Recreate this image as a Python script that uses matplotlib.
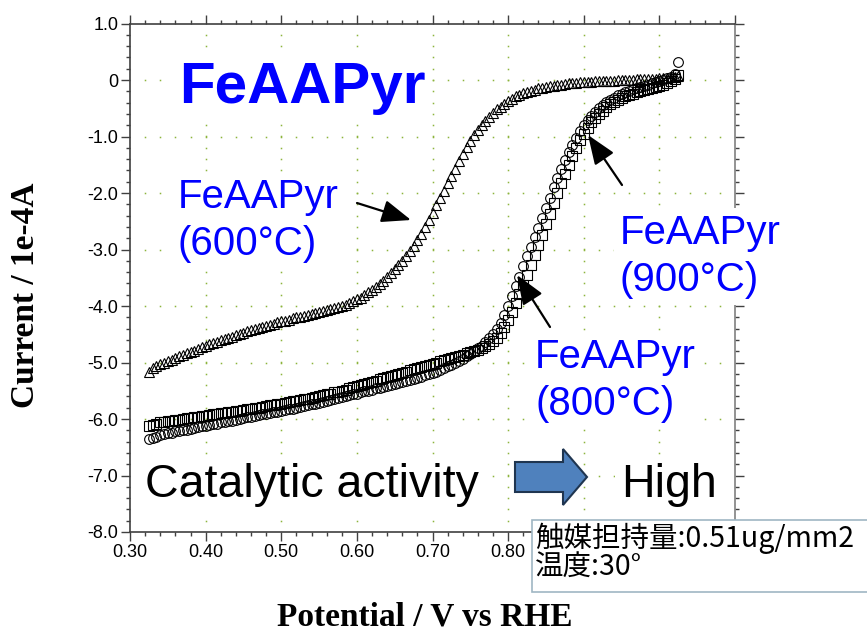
import numpy as np
import matplotlib.pyplot as plt
from matplotlib.patches import FancyArrow, Rectangle
from matplotlib.ticker import MultipleLocator

plt.rcParams['font.family'] = ['Liberation Sans', 'DejaVu Sans']

# --- data (potential in V vs RHE, current in 1e-4 A) ---
potential = [
    0.325, 0.330, 0.335, 0.340, 0.345, 0.350, 0.355, 0.360, 0.365, 0.370,
    0.375, 0.380, 0.385, 0.390, 0.395, 0.400, 0.405, 0.410, 0.415, 0.420,
    0.425, 0.430, 0.435, 0.440, 0.445, 0.450, 0.455, 0.460, 0.465, 0.470,
    0.475, 0.480, 0.485, 0.490, 0.495, 0.500, 0.505, 0.510, 0.515, 0.520,
    0.525, 0.530, 0.535, 0.540, 0.545, 0.550, 0.555, 0.560, 0.565, 0.570,
    0.575, 0.580, 0.585, 0.590, 0.595, 0.600, 0.605, 0.610, 0.615, 0.620,
    0.625, 0.630, 0.635, 0.640, 0.645, 0.650, 0.655, 0.660, 0.665, 0.670,
    0.675, 0.680, 0.685, 0.690, 0.695, 0.700, 0.705, 0.710, 0.715, 0.720,
    0.725, 0.730, 0.735, 0.740, 0.745, 0.750, 0.755, 0.760, 0.765, 0.770,
    0.775, 0.780, 0.785, 0.790, 0.795, 0.800, 0.805, 0.810, 0.815, 0.820,
    0.825, 0.830, 0.835, 0.840, 0.845, 0.850, 0.855, 0.860, 0.865, 0.870,
    0.875, 0.880, 0.885, 0.890, 0.895, 0.900, 0.905, 0.910, 0.915, 0.920,
    0.925, 0.930, 0.935, 0.940, 0.945, 0.950, 0.955, 0.960, 0.965, 0.970,
    0.975, 0.980, 0.985, 0.990, 0.995, 1.000, 1.005, 1.010, 1.015, 1.020,
    1.025,
]

current_600 = [
    -5.17, -5.10, -5.06, -5.03, -5.00, -4.97, -4.95, -4.92, -4.89, -4.87,
    -4.84, -4.81, -4.79, -4.76, -4.73, -4.71, -4.68, -4.66, -4.63, -4.61,
    -4.59, -4.56, -4.54, -4.52, -4.50, -4.47, -4.45, -4.43, -4.41, -4.39,
    -4.37, -4.35, -4.33, -4.31, -4.29, -4.27, -4.26, -4.24, -4.22, -4.20,
    -4.19, -4.17, -4.16, -4.14, -4.12, -4.10, -4.09, -4.07, -4.05, -4.03,
    -4.02, -4.00, -3.98, -3.95, -3.92, -3.88, -3.85, -3.81, -3.76, -3.72,
    -3.67, -3.61, -3.55, -3.49, -3.42, -3.35, -3.28, -3.20, -3.12, -3.03,
    -2.94, -2.84, -2.73, -2.61, -2.48, -2.35, -2.22, -2.09, -1.96, -1.83,
    -1.70, -1.57, -1.44, -1.31, -1.19, -1.08, -0.98, -0.89, -0.80, -0.72,
    -0.65, -0.58, -0.52, -0.47, -0.42, -0.37, -0.33, -0.29, -0.26, -0.23,
    -0.21, -0.19, -0.17, -0.15, -0.14, -0.12, -0.11, -0.10, -0.09, -0.08,
    -0.07, -0.06, -0.06, -0.05, -0.04, -0.04, -0.03, -0.03, -0.02, -0.02,
    -0.02, -0.01, -0.01, -0.01, 0.00, 0.00, 0.00, 0.00, 0.00, 0.01,
    0.01, 0.01, 0.02, 0.02, 0.02, 0.03, 0.03, 0.04, 0.05, 0.06,
    0.07,
]

current_800 = [
    -6.12, -6.10, -6.08, -6.06, -6.05, -6.04, -6.03, -6.02, -6.01, -6.00,
    -5.99, -5.98, -5.97, -5.96, -5.95, -5.94, -5.93, -5.92, -5.91, -5.90,
    -5.89, -5.88, -5.87, -5.86, -5.85, -5.84, -5.83, -5.82, -5.81, -5.80,
    -5.79, -5.77, -5.76, -5.75, -5.74, -5.73, -5.72, -5.70, -5.69, -5.68,
    -5.67, -5.65, -5.64, -5.62, -5.61, -5.59, -5.58, -5.56, -5.55, -5.53,
    -5.52, -5.50, -5.48, -5.46, -5.44, -5.42, -5.40, -5.38, -5.36, -5.34,
    -5.32, -5.30, -5.28, -5.26, -5.24, -5.22, -5.20, -5.18, -5.16, -5.14,
    -5.12, -5.10, -5.08, -5.06, -5.04, -5.02, -5.00, -4.98, -4.96, -4.94,
    -4.92, -4.90, -4.88, -4.86, -4.84, -4.82, -4.80, -4.78, -4.75, -4.71,
    -4.67, -4.62, -4.56, -4.48, -4.38, -4.25, -4.11, -3.95, -3.79, -3.62,
    -3.45, -3.28, -3.10, -2.92, -2.74, -2.55, -2.37, -2.18, -2.00, -1.83,
    -1.66, -1.50, -1.35, -1.20, -1.07, -0.95, -0.85, -0.75, -0.67, -0.60,
    -0.54, -0.48, -0.43, -0.39, -0.35, -0.32, -0.29, -0.27, -0.24, -0.22,
    -0.20, -0.18, -0.16, -0.14, -0.12, -0.10, -0.08, -0.06, -0.02, 0.02,
    0.08,
]

current_900 = [
    -6.36, -6.33, -6.31, -6.29, -6.27, -6.25, -6.24, -6.22, -6.21, -6.20,
    -6.19, -6.17, -6.16, -6.14, -6.13, -6.12, -6.11, -6.09, -6.08, -6.06,
    -6.05, -6.04, -6.03, -6.01, -6.00, -5.98, -5.97, -5.96, -5.95, -5.93,
    -5.92, -5.91, -5.90, -5.88, -5.87, -5.85, -5.84, -5.83, -5.82, -5.80,
    -5.79, -5.77, -5.76, -5.74, -5.73, -5.71, -5.70, -5.68, -5.66, -5.65,
    -5.63, -5.61, -5.60, -5.58, -5.56, -5.55, -5.53, -5.51, -5.50, -5.48,
    -5.46, -5.45, -5.43, -5.41, -5.40, -5.38, -5.36, -5.35, -5.33, -5.31,
    -5.29, -5.27, -5.25, -5.23, -5.21, -5.19, -5.16, -5.13, -5.10, -5.07,
    -5.04, -5.00, -4.97, -4.93, -4.89, -4.85, -4.80, -4.75, -4.70, -4.64,
    -4.57, -4.50, -4.41, -4.30, -4.16, -4.00, -3.83, -3.65, -3.48, -3.30,
    -3.12, -2.95, -2.78, -2.62, -2.44, -2.26, -2.08, -1.90, -1.73, -1.57,
    -1.42, -1.28, -1.15, -1.02, -0.91, -0.80, -0.71, -0.63, -0.56, -0.50,
    -0.44, -0.39, -0.35, -0.31, -0.27, -0.24, -0.21, -0.19, -0.16, -0.14,
    -0.12, -0.10, -0.08, -0.06, -0.04, -0.02, 0.00, 0.03, 0.06, 0.10,
    0.31,
]

x_ticks = [0.30, 0.40, 0.50, 0.60, 0.70, 0.80, 0.90, 1.00, 1.10]
# 0.90 .. 1.10 sit under the condition box in the reference
x_tick_labels = ['0.30', '0.40', '0.50', '0.60', '0.70', '0.80', '', '', '']
y_ticks = [1.0, 0.0, -1.0, -2.0, -3.0, -4.0, -5.0, -6.0, -7.0, -8.0]
y_tick_labels = ['1.0', '0', '-1.0', '-2.0', '-3.0', '-4.0', '-5.0', '-6.0', '-7.0', '-8.0']

W, H = 867, 635
fig = plt.figure(figsize=(W / 100, H / 100), dpi=100)
ax = fig.add_axes([130 / W, 1 - 532 / H, 605 / W, 508.5 / H])


def to_data(px, py):
    # picture pixel -> data coordinates (for placing annotations)
    return 0.3 + (px - 130) / 756.25, (80 - py) / 56.5


def to_fig(px, py):
    return px / W, 1 - py / H


ax.set_xlim(0.3, 1.1)
ax.set_ylim(-8, 1)

# dotted grid: dots at minor positions along each major line
grid_color = '#8DB43C'
minor_x = np.arange(0.32, 1.09, 0.02)
minor_y = np.arange(-7.8, 0.81, 0.2)
for xv in x_ticks[1:-1]:
    ax.plot(np.full(len(minor_y), xv), minor_y, ls='none', marker='s', ms=1.1,
            mec='none', mfc=grid_color, zorder=1)
for yv in y_ticks[1:-1]:
    ax.plot(minor_x, np.full(len(minor_x), yv), ls='none', marker='s', ms=1.1,
            mec='none', mfc=grid_color, zorder=1)

# --- curves ---
mk = dict(ls='none', mfc='none', mec='black', mew=0.8, zorder=3)
ax.plot(potential, current_600, marker='^', ms=7.5, **mk)
ax.plot(potential, current_800, marker='s', ms=6.5, **mk)
ax.plot(potential, current_900, marker='o', ms=7, **mk)

# --- axes styling ---
ax.set_xticks(x_ticks, x_tick_labels)
ax.set_yticks(y_ticks, y_tick_labels)
ax.xaxis.set_minor_locator(MultipleLocator(0.02))
ax.yaxis.set_minor_locator(MultipleLocator(0.2))
ax.tick_params(which='both', direction='out', top=True, right=True,
               color='#404040', width=1)
ax.tick_params(which='major', length=6.5, labelsize=13, pad=2)
ax.tick_params(which='minor', length=3)
for s in ax.spines.values():
    s.set_color('#404040')
    s.set_linewidth(1.2)
ax.spines['right'].set_color('#808080')

white_box = dict(facecolor='white', edgecolor='none', pad=4)
blue = '#0000FF'

ax.text(*to_data(179, 103), 'FeAAPyr', fontsize=42, fontweight='bold', color=blue,
        ha='left', va='baseline', bbox=white_box, zorder=5)

ax.text(*to_data(178, 178), 'FeAAPyr\n(600°C)', fontsize=29, color=blue,
        ha='left', va='top', linespacing=1.3, bbox=white_box, zorder=5)
ax.text(*to_data(620, 214), 'FeAAPyr\n(900°C)', fontsize=29, color=blue,
        ha='left', va='top', linespacing=1.3, bbox=white_box, zorder=5)
ax.text(*to_data(535, 338), 'FeAAPyr\n(800°C)', fontsize=29, color=blue,
        ha='left', va='top', linespacing=1.3, bbox=white_box, zorder=5)

arrow_style = dict(arrowstyle='-|>,head_length=0.9,head_width=0.35', color='black',
                   lw=1.6, mutation_scale=20, shrinkA=0, shrinkB=0)
ax.annotate('', xy=to_data(411, 220), xytext=to_data(357, 203),
            arrowprops=arrow_style, zorder=6)
ax.annotate('', xy=to_data(588, 135), xytext=to_data(622, 185),
            arrowprops=arrow_style, zorder=6)
ax.annotate('', xy=to_data(517, 275), xytext=to_data(550, 327),
            arrowprops=arrow_style, zorder=6)

ax.text(*to_data(145, 497), 'Catalytic activity', fontsize=33.5, color='black',
        ha='left', va='baseline', bbox=white_box, zorder=5)
ax.text(*to_data(621, 497), 'High', fontsize=33.5, color='black',
        ha='left', va='baseline', bbox=white_box, zorder=5)

x0, y0 = to_data(515, 477)
x1, _ = to_data(587, 477)
ax.add_patch(FancyArrow(x0, y0, x1 - x0, 0, width=30 / 56.5, head_width=56 / 56.5,
                        head_length=24 / 756.25, length_includes_head=True,
                        facecolor='#4F81BD', edgecolor='#1F3550', lw=1.5, zorder=6))

# --- axis labels ---
fig.text(*to_fig(425, 617), 'Potential / V vs RHE', fontsize=24, fontweight='bold',
         family='Liberation Serif', ha='center', va='center')
fig.text(*to_fig(26, 295), 'Current / 1e-4A', fontsize=24, fontweight='bold',
         family='Liberation Serif', ha='center', va='center', rotation=90)

# --- condition box ---
rect = Rectangle(to_fig(532, 592), (880 - 532) / W, (592 - 520) / H,
                 transform=fig.transFigure, facecolor='white', edgecolor='#9FB6C3',
                 lw=1.2, zorder=10)
fig.add_artist(rect)
fig.text(*to_fig(535, 523), '触媒担持量:0.51ug/mm2\n温度:30°', fontsize=20.5,
         family=['Noto Sans CJK JP', 'DejaVu Sans'], ha='left', va='top',
         linespacing=0.95, zorder=11)

fig.savefig('out.png', dpi=100)
